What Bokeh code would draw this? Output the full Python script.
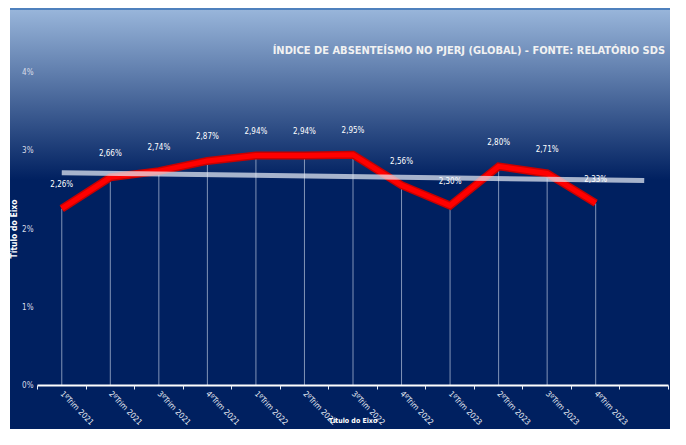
from bokeh.plotting import figure
from bokeh.models import (Range1d, LinearAxis, FixedTicker, PrintfTickFormatter,
                          CustomJSTickFormatter)
from bokeh.core.properties import value
from bokeh.embed import file_html
from bokeh.resources import INLINE

# ---- data ----
quarters = ["1ºTrim 2021", "2ºTrim 2021", "3ºTrim 2021", "4ºTrim 2021",
            "1ºTrim 2022", "2ºTrim 2022", "3ºTrim 2022", "4ºTrim 2022",
            "1ºTrim 2023", "2ºTrim 2023", "3ºTrim 2023", "4ºTrim 2023"]
absenteeism = [2.26, 2.66, 2.74, 2.87, 2.94, 2.94, 2.95, 2.56, 2.30, 2.80, 2.71, 2.33]
extra_slot = [""]                        # empty 13th category (trend forecast)
trend_vals = [2.72, 2.62]                # trend line end values
y_ticks = [0, 1, 2, 3, 4]
title_text = "ÍNDICE DE ABSENTEÍSMO NO PJERJ (GLOBAL) - FONTE:  RELATÓRIO SDS"
axis_title = "Título do Eixo"

FONT = "DejaVu Sans Condensed"
factors = quarters + extra_slot
n_slots = len(factors)
centers = [i + 0.5 for i in range(n_slots)]
xq = centers[:len(quarters)]
trend_x = [centers[0], centers[-1]]
labels = [f"{v:.2f}%".replace(".", ",") for v in absenteeism]

p = figure(width=670, height=429,
           x_range=Range1d(0, n_slots),
           y_range=Range1d(0, 4),
           x_axis_location=None,
           output_backend="svg", toolbar_location=None,
           min_border_left=37, min_border_right=2,
           min_border_top=72, min_border_bottom=44)

p.styles = {"background-image":
            "linear-gradient(to right, #ffffff 0px, #ffffff 10px, rgba(0,0,0,0) 10px), "
            "linear-gradient(to bottom, #ffffff 0px, #ffffff 8px, #4f81bd 8px, "
            "#4f81bd 10px, #98b5da 10px, #002060 180px, #002060 100%)"}
p.border_fill_color = None
p.background_fill_color = None
p.outline_line_color = None
p.grid.visible = False

# title
p.title.text = title_text
p.title.align = "right"
p.title.text_color = "#f2f2f2"
p.title.text_font = FONT
p.title.text_font_size = "11px"
p.title.text_font_style = "bold"
p.title.standoff = 31

# y axis
ya = p.yaxis[0]
ya.ticker = FixedTicker(ticks=y_ticks)
ya.formatter = PrintfTickFormatter(format="%d%%")
ya.axis_line_color = None
ya.major_tick_line_color = None
ya.major_tick_out = 0
ya.major_tick_in = 0
ya.minor_tick_line_color = None
ya.minor_tick_out = 0
ya.major_label_text_color = "#d9dde8"
ya.major_label_text_font = FONT
ya.major_label_text_font_size = "8px"
ya.major_label_standoff = 4
ya.axis_label = axis_title
ya.axis_label_text_color = "#ffffff"
ya.axis_label_text_font = FONT
ya.axis_label_text_font_size = "8.5px"
ya.axis_label_text_font_style = "bold"
ya.axis_label_standoff = 0

# x axis: boundary ticks + line
tick_axis = LinearAxis(ticker=FixedTicker(ticks=list(range(n_slots + 1))))
tick_axis.axis_line_color = "#ffffff"
tick_axis.axis_line_width = 2
tick_axis.major_tick_line_color = "#e8ecf4"
tick_axis.major_tick_line_width = 1
tick_axis.major_tick_out = 4
tick_axis.major_tick_in = 0
tick_axis.minor_tick_line_color = None
tick_axis.minor_tick_out = 0
tick_axis.major_label_text_font_size = "1px"
tick_axis.major_label_text_alpha = 0
tick_axis.major_label_standoff = 0
p.add_layout(tick_axis, "below")

# x axis: category labels
cat_axis = LinearAxis(ticker=FixedTicker(ticks=centers),
                      formatter=CustomJSTickFormatter(
                          args=dict(names=factors),
                          code="const i = Math.floor(tick); "
                               "return (i >= 0 && i < names.length) ? names[i] : '';"))
cat_axis.axis_line_color = None
cat_axis.major_tick_line_color = None
cat_axis.major_tick_out = 0
cat_axis.major_tick_in = 0
cat_axis.minor_tick_line_color = None
cat_axis.minor_tick_out = 0
cat_axis.major_label_orientation = -0.8
cat_axis.major_label_text_color = "#e8ecf4"
cat_axis.major_label_text_font = FONT
cat_axis.major_label_text_font_size = "8px"
cat_axis.major_label_standoff = 3
cat_axis.axis_label = axis_title
cat_axis.axis_label_text_color = "#ffffff"
cat_axis.axis_label_text_font = FONT
cat_axis.axis_label_text_font_size = "7px"
cat_axis.axis_label_text_font_style = "bold"
cat_axis.axis_label_standoff = -16
p.add_layout(cat_axis, "below")

# drop lines
p.segment(x0=xq, y0=0, x1=xq, y1=absenteeism,
          line_color="#b8c4dc", line_alpha=0.7, line_width=1)

# main series
p.line(xq, absenteeism, line_color="#c80000", line_width=8,
       line_join="miter", line_cap="butt")
p.line(xq, absenteeism, line_color="#ff0000", line_width=5,
       line_join="miter", line_cap="butt")

# trend line
p.line(trend_x, trend_vals, line_color="#e6ebf5", line_alpha=0.72,
       line_width=5, line_cap="butt")

# data labels
p.text(x=xq, y=absenteeism, text=labels, text_align="center",
       text_baseline="middle", y_offset=-24, text_color="#ffffff",
       text_font=value(FONT), text_font_size="8px")

open("out.html", "w").write(file_html(p, INLINE))
